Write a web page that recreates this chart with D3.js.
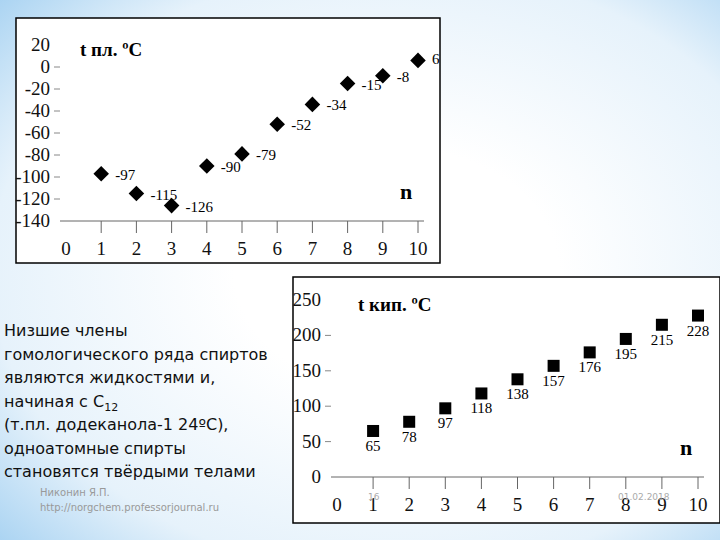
<!DOCTYPE html><html><head><meta charset="utf-8"><script src="https://cdn.jsdelivr.net/npm/d3@7"></script>
<style>body{margin:0}</style></head><body><svg id="c" width="720" height="540"></svg>
<script>
const nVals = [1,2,3,4,5,6,7,8,9,10];
const meltVals = [-97,-115,-126,-90,-79,-52,-34,-15,-8,6];
const boilVals = [65,78,97,118,138,157,176,195,215,228];
const xTicks = [0,1,2,3,4,5,6,7,8,9,10];
const meltTicks = [20,0,-20,-40,-60,-80,-100,-120,-140];
const boilTicks = [250,200,150,100,50,0];
const textLines = ["Низшие члены","гомологического ряда спиртов","являются жидкостями и,","начиная с C₁₂","(т.пл. додеканола-1 24ºC),","одноатомные спирты","становятся твёрдыми телами"];

const svg = d3.select("#c");
const defs = svg.append("defs");
const g = defs.append("radialGradient").attr("id","bg").attr("cx","0.55").attr("cy","0.5").attr("r","0.75");
g.append("stop").attr("offset","0.3").attr("stop-color","#ffffff");
g.append("stop").attr("offset","0.75").attr("stop-color","#e6f2fb");
g.append("stop").attr("offset","1").attr("stop-color","#a9d3f2");
svg.append("rect").attr("width",720).attr("height",540).attr("fill","url(#bg)");

const tx = svg.append("g").attr("font-family","DejaVu Sans, Verdana, sans-serif").attr("font-size",16).attr("fill","#111");
textLines.forEach((t,i)=>{
  if(t.startsWith("начиная")){
    const e=tx.append("text").attr("x",4).attr("y",336+i*23.5);
    e.append("tspan").text("начиная с C");
    e.append("tspan").attr("font-size",11).attr("dy",4).text("12");
  } else tx.append("text").attr("x",4).attr("y",336+i*23.5).text(t);
});
svg.append("text").attr("x",40).attr("y",496).attr("font-family","DejaVu Sans").attr("font-size",10).attr("fill","#999").text("Никонин Я.П.");
svg.append("text").attr("x",40).attr("y",511).attr("font-family","DejaVu Sans").attr("font-size",10).attr("fill","#999").text("http://norgchem.professorjournal.ru");

function chart(box, xr, yDomain, yr, yTicks, vals, title, titleX, titleY, markerFn, labelFn){
  const c = svg.append("g").attr("font-family","Liberation Serif, Times New Roman, serif");
  c.append("rect").attr("x",box[0]).attr("y",box[1]).attr("width",box[2]).attr("height",box[3]).attr("fill","#fff").attr("stroke","#000").attr("stroke-width",1.5);
  const x = d3.scaleLinear().domain([0,10]).range(xr);
  const y = d3.scaleLinear().domain(yDomain).range(yr);
  const y0 = y(yDomain[0]);
  c.append("line").attr("x1",xr[0]-6).attr("x2",xr[1]+6).attr("y1",y0).attr("y2",y0).attr("stroke","#666");
  xTicks.slice(1).forEach(t=>c.append("line").attr("x1",x(t)).attr("x2",x(t)).attr("y1",y0).attr("y2",y0+12).attr("stroke","#666"));
  xTicks.forEach(t=>c.append("text").attr("x",x(t)).attr("y",y0+34).attr("text-anchor","middle").attr("font-size",19).attr("fill","#111").text(t));
  yTicks.forEach(t=>{
    c.append("text").attr("x",xr[0]-16).attr("y",y(t)+6).attr("text-anchor","end").attr("font-size",19).attr("fill","#111").text(t);
    if(t!==yDomain[0] && t!==yDomain[1]) c.append("line").attr("x1",xr[0]-12).attr("x2",xr[0]-6).attr("y1",y(t)).attr("y2",y(t)).attr("stroke","#888");
  });
  c.append("text").attr("x",titleX).attr("y",titleY).attr("font-size",19).attr("font-weight","bold").text(title);
  c.append("text").attr("x",xr[1]-18).attr("y",y0-22).attr("font-size",22).attr("font-weight","bold").text("n");
  vals.forEach((v,i)=>{ markerFn(c,x(nVals[i]),y(v)); labelFn(c,x(nVals[i]),y(v),v); });
}

chart([16,18,424,245],[66,418],[-140,20],[221,45],meltTicks,meltVals,"t пл. ºC",80,56,
  (c,px,py)=>c.append("rect").attr("x",-5.5).attr("y",-5.5).attr("width",11).attr("height",11).attr("transform",`translate(${px},${py}) rotate(45)`).attr("fill","#000"),
  (c,px,py,v)=>c.append("text").attr("x",px+14).attr("y",py+(v===6?4:6)).attr("font-size",15).text(v));

chart([293,277,427,246],[337,698],[0,250],[477,300],boilTicks,boilVals,"t кип. ºC",358,311,
  (c,px,py)=>c.append("rect").attr("x",px-6).attr("y",py-6).attr("width",12).attr("height",12).attr("fill","#000"),
  (c,px,py,v)=>c.append("text").attr("x",px).attr("y",py+20).attr("text-anchor","middle").attr("font-size",15).text(v));

svg.append("text").attr("x",368).attr("y",500).attr("font-family","DejaVu Sans").attr("font-size",9).attr("fill","#aaa").text("16");
svg.append("text").attr("x",618).attr("y",500).attr("font-family","DejaVu Sans").attr("font-size",9).attr("fill","#aaa").text("01.02.2018");
</script></body></html>
